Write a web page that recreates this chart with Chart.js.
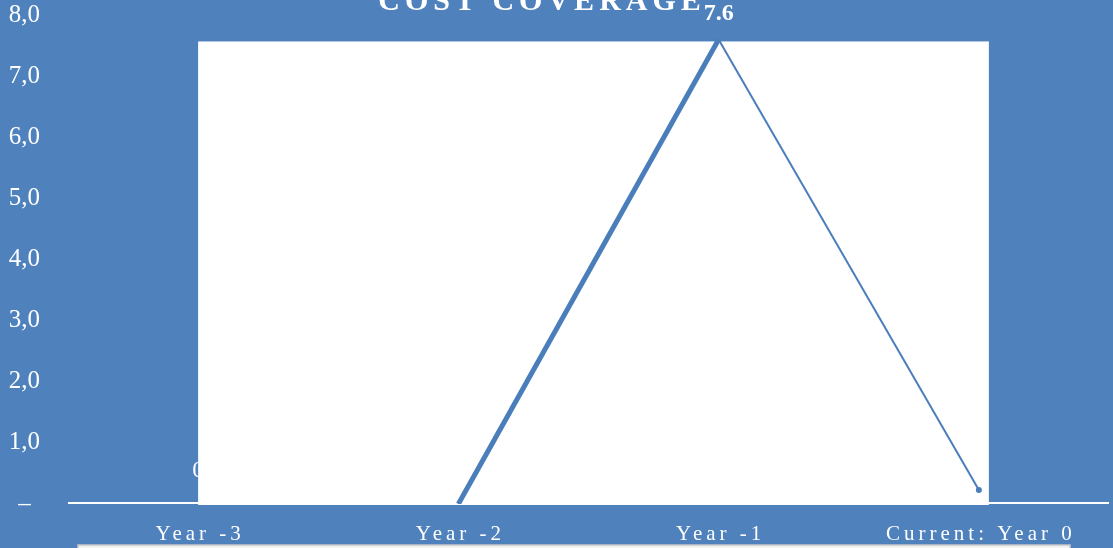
<!DOCTYPE html>
<html>
<head>
<meta charset="utf-8">
<title>Cost Coverage</title>
<script src="https://cdn.jsdelivr.net/npm/chart.js@4/dist/chart.umd.min.js"></script>
<style>
  body { margin: 0; background: #4F81BD; }
  canvas { display: block; }
</style>
</head>
<body>
<canvas id="myChart" width="1113" height="548"></canvas>
<script>
// chart data
var years = ['Year -3', 'Year -2', 'Year -1', 'Current: Year 0'];
var coverage = [0, 0, 7.6, 0.23];
var labelShown = [true, false, true, false];
var yTicks = [0, 1, 2, 3, 4, 5, 6, 7, 8];

var blue = '#4F81BD';
var lineBlue = '#4A7EBB';
var serif = '"Liberation Serif", "DejaVu Serif", serif';

var plotDeco = {
    id: 'plotDeco',
    beforeDraw: function (chart) {
        var c = chart.ctx;
        c.save();
        c.fillStyle = blue;
        c.fillRect(0, 0, chart.width, chart.height);
        c.restore();
    },
    beforeDatasetsDraw: function (chart) {
        var c = chart.ctx, x = chart.scales.x, y = chart.scales.y, a = chart.chartArea;
        c.save();
        // value labels
        c.fillStyle = '#fff';
        c.textAlign = 'center';
        c.textBaseline = 'middle';
        coverage.forEach(function (v, i) {
            if (!labelShown[i]) return;
            c.font = (v > 1 ? 'bold ' : '') + '24px ' + serif;
            c.fillText(v > 1 ? v.toFixed(1) : String(v), x.getPixelForValue(i), y.getPixelForValue(v) - (v > 1 ? 26 : 33));
        });
        // white panel behind the line
        var top = y.getPixelForValue(Math.max.apply(null, coverage)) + 2;
        var left = x.getPixelForValue(0);
        var right = x.getPixelForValue(years.length - 1) + 10;
        var bottom = y.getPixelForValue(0) + 1;
        c.fillStyle = '#fff';
        c.fillRect(left, top, right - left, bottom - top);
        // baseline
        c.fillRect(a.left, y.getPixelForValue(0) - 2, a.right - a.left, 2);
        c.restore();
    },
    afterDraw: function (chart) {
        var c = chart.ctx, x = chart.scales.x, a = chart.chartArea;
        c.save();
        c.fillStyle = '#fff';
        c.textAlign = 'center';
        c.textBaseline = 'alphabetic';
        // title
        c.font = 'bold 30px ' + serif;
        c.letterSpacing = '5px';
        c.fillText('COST COVERAGE', chart.width * 0.487, 10);
        // category labels
        c.font = '21px ' + serif;
        c.letterSpacing = '4px';
        years.forEach(function (t, i) {
            c.fillText(t, x.getPixelForValue(i) + 2, a.bottom + 36);
        });
        c.letterSpacing = '0px';
        // legend box at the bottom edge
        c.fillStyle = '#F2F2F2';
        c.strokeStyle = '#C8C8C8';
        c.lineWidth = 1.5;
        c.fillRect(78, chart.height - 3, 992, 20);
        c.strokeRect(78, chart.height - 3, 992, 20);
        c.restore();
    }
};

var ctx = document.getElementById('myChart').getContext('2d');
var myChart = new Chart(ctx, {
    type: 'line',
    data: {
        labels: years,
        datasets: [{
            label: 'Cost coverage',
            data: coverage,
            borderColor: lineBlue,
            backgroundColor: lineBlue,
            borderWidth: 2,
            pointRadius: [0, 0, 0, 3],
            pointBorderWidth: 0,
            tension: 0,
            segment: {
                borderColor: function (s) { return s.p0DataIndex === 0 ? 'rgba(0,0,0,0)' : lineBlue; },
                borderWidth: function (s) { return s.p0DataIndex === 1 ? 5 : 2; }
            }
        }]
    },
    plugins: [plotDeco],
    options: {
        responsive: false,
        animation: false,
        layout: { padding: { top: 15, right: 0, left: 0, bottom: 0 } },
        plugins: {
            legend: { display: false },
            tooltip: { enabled: false },
            title: { display: false }
        },
        scales: {
            x: {
                offset: true,
                grid: { display: false },
                border: { display: false },
                ticks: { display: false },
                afterFit: function (s) { s.height = 44; }
            },
            y: {
                min: 0,
                max: 8,
                afterBuildTicks: function (s) {
                    s.ticks = yTicks.map(function (v) { return { value: v }; });
                },
                grid: { display: false },
                border: { display: false },
                ticks: {
                    color: '#fff',
                    font: { family: serif, size: 25 },
                    padding: 20,
                    crossAlign: 'center',
                    callback: function (v) { return v === 0 ? '\u2013' : v.toFixed(1).replace('.', ','); }
                },
                afterFit: function (s) {
                    s.width = 68;
                    s.paddingTop = 0;
                    s.paddingBottom = 0;
                }
            }
        }
    }
});
</script>
</body>
</html>
